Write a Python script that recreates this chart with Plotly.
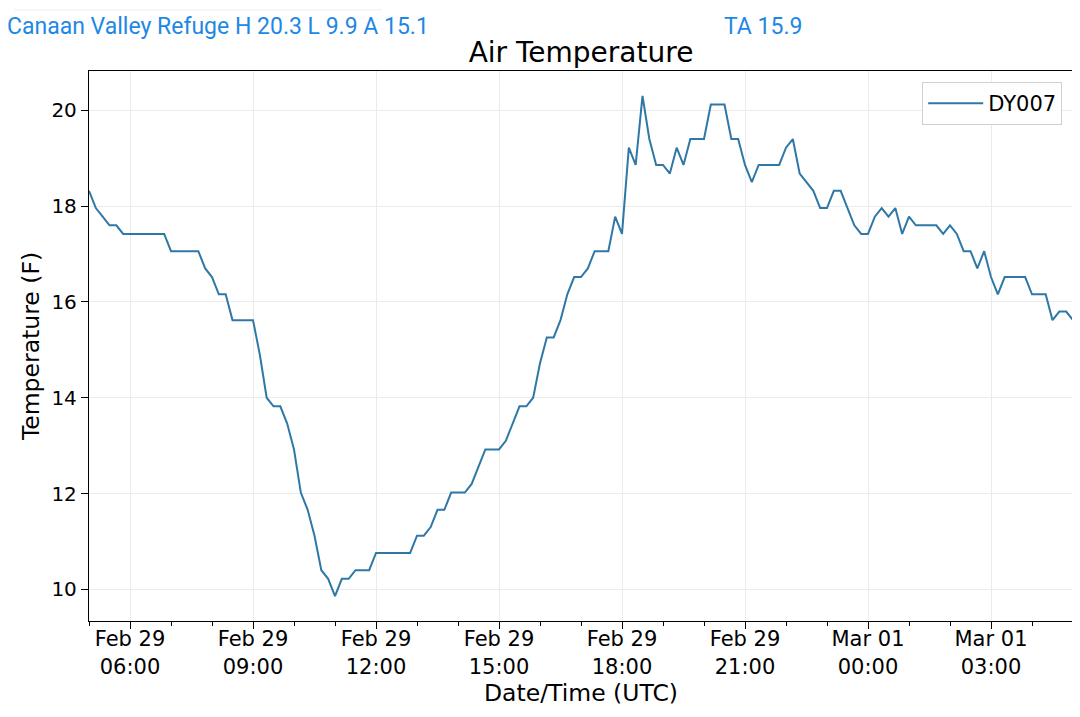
import pandas as pd
import plotly.graph_objects as go

# Air temperature, 10 min readings (F)
start_time = '2020-02-29 05:00'
n_points = 145
temps = [18.32, 17.96, 17.78, 17.6, 17.6,
         17.42, 17.42, 17.42, 17.42, 17.42, 17.42, 17.42,
         17.06, 17.06, 17.06, 17.06, 17.06,
         16.7, 16.52, 16.16, 16.16,
         15.62, 15.62, 15.62, 15.62,
         14.9, 14.0, 13.82, 13.82, 13.46, 12.92, 12.02, 11.66, 11.12,
         10.4, 10.22, 9.86, 10.22, 10.22, 10.4, 10.4, 10.4,
         10.76, 10.76, 10.76, 10.76, 10.76, 10.76,
         11.12, 11.12, 11.3, 11.66, 11.66, 12.02, 12.02, 12.02,
         12.2, 12.56, 12.92, 12.92, 12.92, 13.1, 13.46, 13.82, 13.82,
         14.0, 14.72, 15.26, 15.26, 15.62, 16.16, 16.52, 16.52, 16.7,
         17.06, 17.06, 17.06, 17.78, 17.42,
         19.22, 18.86, 20.3, 19.4, 18.86, 18.86, 18.68, 19.22, 18.86,
         19.4, 19.4, 19.4, 20.12, 20.12, 20.12, 19.4, 19.4,
         18.86, 18.5, 18.86, 18.86, 18.86, 18.86, 19.22, 19.4,
         18.68, 18.5, 18.32, 17.96, 17.96, 18.32, 18.32, 17.96,
         17.6, 17.42, 17.42, 17.78, 17.96, 17.78, 17.96, 17.42, 17.78,
         17.6, 17.6, 17.6, 17.6, 17.42, 17.6, 17.42,
         17.06, 17.06, 16.7, 17.06, 16.52, 16.16,
         16.52, 16.52, 16.52, 16.52, 16.16, 16.16, 16.16,
         15.62, 15.8, 15.8, 15.62]
times = pd.date_range(start_time, periods=n_points, freq='10min')

station = 'Canaan Valley Refuge'
hi, lo, avg, ta = 20.3, 9.9, 15.1, 15.9
tick_times = pd.date_range('2020-02-29 06:00', periods=8, freq='3h')
tick_text = [t.strftime('%b %d<br>%H:%M') for t in tick_times]
y_ticks = [10, 12, 14, 16, 18, 20]

font = 'DejaVu Sans'
fig = go.Figure()
fig.add_trace(go.Scatter(x=times, y=temps, mode='lines', name='DY007',
                         line=dict(color='#2f78a6', width=2)))

# page body has 8px margin, so figure is 1072x709
fig.update_layout(
    width=1072, height=709,
    margin=dict(l=81, r=7, t=63, b=96),
    plot_bgcolor='white', paper_bgcolor='white',
    font=dict(family=font, size=20, color='black'),
    title=dict(text='Air Temperature', x=0.5, xref='paper', xanchor='center',
               y=1 - 44 / 709, yref='container', yanchor='middle',
               font=dict(size=28, family=font, color='black')),
    legend=dict(x=0.989, y=0.98, xanchor='right', yanchor='top',
                bgcolor='white', bordercolor='#d0d0d0', borderwidth=1,
                itemwidth=55, font=dict(size=21, family=font)),
    showlegend=True,
)

fig.update_xaxes(range=[times[0], times[-1]], tickvals=tick_times, ticktext=tick_text,
                 ticks='outside', ticklen=7, tickcolor='black', ticklabelstandoff=-8,
                 tickfont=dict(size=21),
                 minor=dict(ticks='outside', ticklen=4, tickcolor='black',
                            dtick=3600000, tick0=start_time, showgrid=False),
                 showgrid=True, gridcolor='#ebebeb', gridwidth=1,
                 showline=True, mirror=True, linecolor='black', linewidth=1.3,
                 automargin=False,
                 title=dict(text='Date/Time (UTC)', font=dict(size=23.5), standoff=0))
fig.update_yaxes(range=[9.34, 20.82], tickvals=y_ticks,
                 ticks='outside', ticklen=7, tickcolor='black',
                 showgrid=True, gridcolor='#ebebeb', gridwidth=1,
                 showline=True, mirror=True, linecolor='black', linewidth=1.3,
                 zeroline=False, automargin=False,
                 title=dict(text='Temperature (F)', font=dict(size=23.5), standoff=5))

# header line like the phone app
fig.add_annotation(text=f'{station} H {hi} L {lo} A {avg}', xref='paper', yref='paper',
                   x=-0.0854, y=1.08, xanchor='left', yanchor='middle', showarrow=False,
                   font=dict(family='Roboto', size=23, color='#1E88E5'))
fig.add_annotation(text=f'TA {ta}', xref='paper', yref='paper',
                   x=0.685, y=1.08, xanchor='center', yanchor='middle', showarrow=False,
                   font=dict(family='Roboto', size=23, color='#1E88E5'))
fig.add_shape(type='line', xref='paper', yref='paper', x0=-0.0762, x1=0.2978, y0=1.111, y1=1.111,
              line=dict(color='#eeeeee', width=1))

fig.write_html('out.html')
